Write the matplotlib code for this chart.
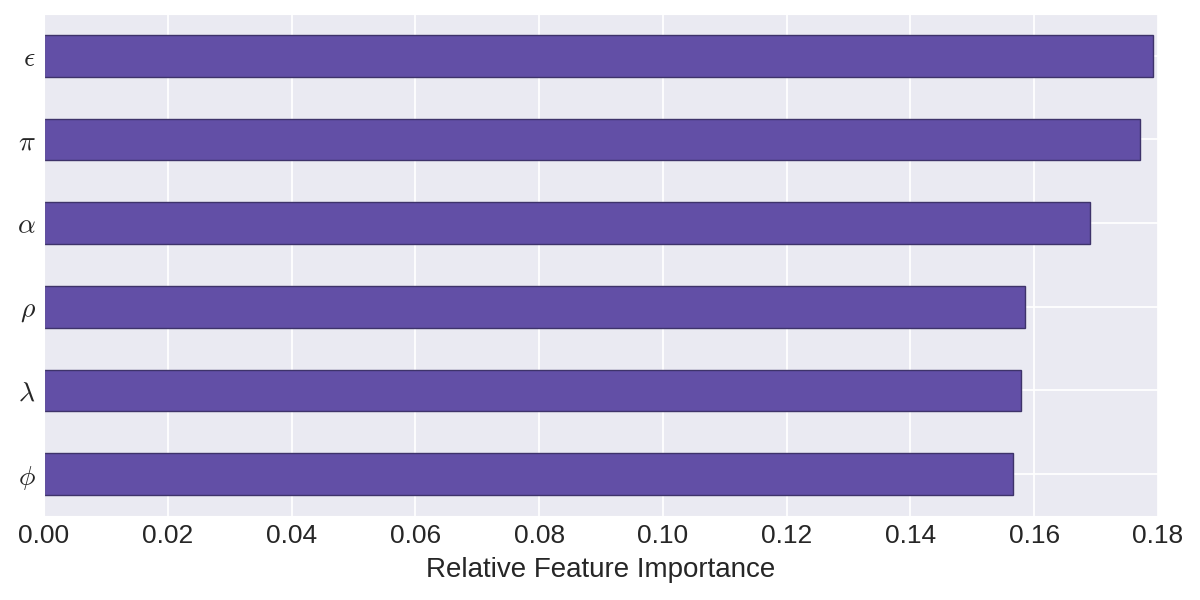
import matplotlib
matplotlib.use("Agg")
import matplotlib.pyplot as plt
import seaborn as sns

features = [r"$\phi$", r"$\lambda$", r"$\rho$", r"$\alpha$", r"$\pi$", r"$\epsilon$"]
importance = [0.1565, 0.1579, 0.1585, 0.1690, 0.1771, 0.1792]
xticks = [0.0, 0.02, 0.04, 0.06, 0.08, 0.10, 0.12, 0.14, 0.16, 0.18]
xticklabels = ["0.00", "0.02", "0.04", "0.06", "0.08", "0.10", "0.12", "0.14", "0.16", "0.18"]

sns.set_style("darkgrid")
plt.rcParams["font.family"] = ["sans-serif"]
plt.rcParams["font.sans-serif"] = ["Liberation Sans", "Arial", "DejaVu Sans"]
plt.rcParams["mathtext.fontset"] = "cm"

fig = plt.figure(figsize=(12, 6), dpi=100)
ax = fig.add_axes([0.0367, 0.14, 0.9283, 0.8367])
ypos = list(range(len(features)))
ax.barh(ypos, importance, height=0.5, color="#624FA6", edgecolor="#3e336a", linewidth=1.0, zorder=2)
ax.set_yticks(ypos)
ax.set_yticklabels(features, fontsize=20)
ax.set_xlim(0, 0.18)
ax.set_ylim(-0.5, 5.5)
ax.set_xticks(xticks)
ax.set_xticklabels(xticklabels, fontsize=19)
ax.set_xlabel("Relative Feature Importance", fontsize=20, labelpad=6)
ax.tick_params(axis="both", length=0, pad=6)
ax.grid(linewidth=1.3)
fig.savefig("out.png", dpi=100)
